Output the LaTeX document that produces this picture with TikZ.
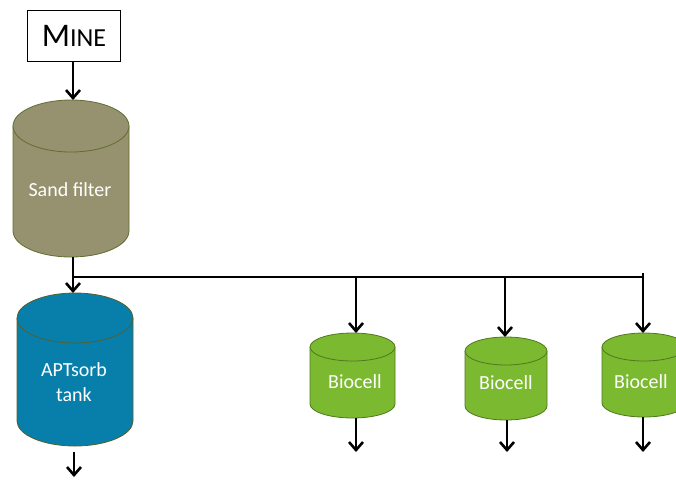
\documentclass[tikz,border=0pt]{standalone}
\usepackage{fontspec}
\setmainfont{Carlito}
\usetikzlibrary{arrows.meta, positioning}

\definecolor{sandfill}{RGB}{150,145,110}
\definecolor{sanddraw}{RGB}{95,110,50}
\definecolor{aptfill}{RGB}{8,127,170}
\definecolor{aptdraw}{RGB}{85,95,45}
\definecolor{biofill}{RGB}{122,185,48}
\definecolor{biodraw}{RGB}{80,120,30}

% upright tank: #1 name, #2 style, #3 centre x, #4 top, #5 bottom, #6 x radius, #7 y radius
\newcommand{\tankbody}[7]{%
	\filldraw[#2] (#3-#6,#4+#7) -- (#3-#6,#5-#7)
		arc[start angle=180, end angle=360, x radius=#6pt, y radius=#7pt]
		-- (#3+#6,#4+#7)
		arc[start angle=0, end angle=180, x radius=#6pt, y radius=#7pt] -- cycle;
	\draw[#2] (#3-#6,#4+#7) arc[start angle=180, end angle=360, x radius=#6pt, y radius=#7pt];
	\coordinate (#1-top) at (#3,#4);
	\coordinate (#1-bottom) at (#3,#5);
}

\begin{document}
\begin{tikzpicture}[x=1pt,y=-1pt,>={Straight Barb[length=8pt,width=14pt]},
	flow/.style={->, line width=2.6pt},
	pipe/.style={line width=1.8pt},
	tanklabel/.style={text=white, align=center, font=\fontsize{20}{25}\selectfont, inner sep=0pt}]
	\useasboundingbox (0,0) rectangle (676,480);
	\clip (0,0) rectangle (676,480);

	% source
	\node[draw, line width=1.5pt, minimum width=93pt, minimum height=51pt] (mine) at (74,36)
		{\fontsize{33}{33}\selectfont M\fontsize{26}{26}\selectfont INE};

	% tanks
	\tankbody{sand}{fill=sandfill, draw=sanddraw, line width=0.8pt}{71}{100}{257}{58}{26}
	\node[tanklabel] (sandtext) at (70,190) {Sand filter};
	\tankbody{apt}{fill=aptfill, draw=aptdraw, line width=0.8pt}{75}{293}{446}{58}{25}
	\node[tanklabel] (apttext) at (74,382) {APTsorb\\tank};

	\tankbody{bioA}{fill=biofill, draw=biodraw, line width=0.8pt}{352.5}{333}{418}{42.5}{14}
	\node[tanklabel] (bioAtext) at (355,382) {Biocell};
	\tankbody{bioB}{fill=biofill, draw=biodraw, line width=0.8pt}{506}{337}{420}{41}{14}
	\node[tanklabel] (bioBtext) at (506,383) {Biocell};
	\tankbody{bioC}{fill=biofill, draw=biodraw, line width=0.8pt}{644}{333}{417}{42}{14}
	\node[tanklabel] (bioCtext) at (641,382) {Biocell};

	% header pipe
	\coordinate (split) at (73,277);
	\coordinate (tapA) at (356,277);
	\coordinate (tapB) at (505,277);
	\coordinate (tapC) at (643,273);
	\coordinate (aptout) at (74,477);
	\coordinate (bioAout) at (356,452);
	\coordinate (bioBout) at (507,452);
	\coordinate (bioCout) at (643,452);

	\draw[flow] (mine.south -| split) -- (split |- sand-top);
	\draw[flow] (split |- sand-bottom) -- (split |- apt-top);
	\draw[pipe] (split) -- (split -| tapC);
	\draw[flow] (tapA) -- (tapA |- bioA-top);
	\draw[flow] (tapB) -- (tapB |- bioB-top);
	\draw[flow] (tapC) -- (tapC |- bioC-top);

	% outlets
	\draw[flow] (aptout |- 0,452) -- (aptout);
	\draw[flow] (bioAout |- bioA-bottom) -- (bioAout);
	\draw[flow] (bioBout |- bioB-bottom) -- (bioBout);
	\draw[flow] (bioCout |- bioC-bottom) -- (bioCout);
\end{tikzpicture}
\end{document}
